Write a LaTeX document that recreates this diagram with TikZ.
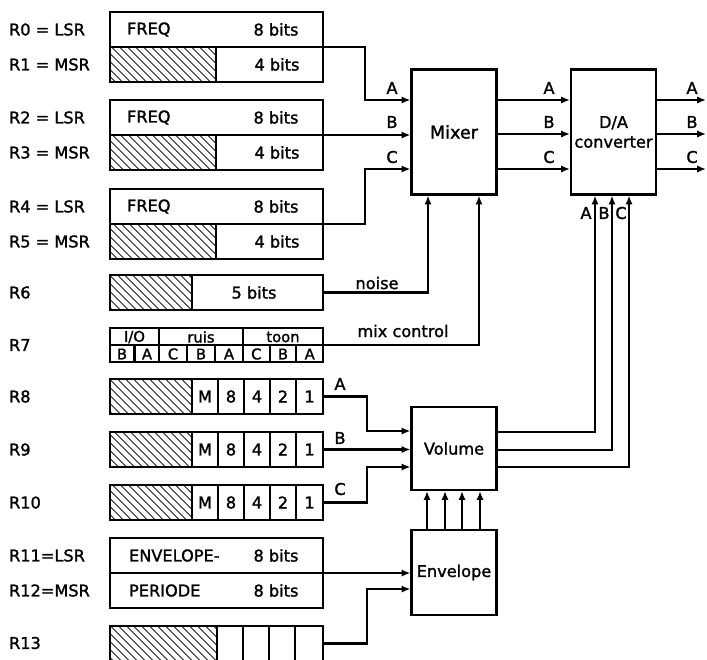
\documentclass[tikz,border=0pt]{standalone}
\usepackage{fontspec}
\setmainfont{DejaVu Sans}[FakeBold=1.5]
\usetikzlibrary{positioning, arrows.meta, calc, patterns.meta}

\begin{document}
\begin{tikzpicture}[x=0.025cm, y=-0.025cm, line width=1.5pt,
    font=\fontsize{11.5}{14}\selectfont,
    reg/.style={draw, anchor=north west, minimum width=5.325cm, minimum height=0.875cm,
                inner sep=0pt, outer sep=0pt},
    blk/.style={draw, minimum width=2.125cm, inner sep=1pt, align=center},
    lbl/.style={anchor=west, inner sep=0pt},
    txt/.style={inner sep=0pt},
    small/.style={inner sep=0pt, font=\fontsize{10.5}{11}\selectfont},
    hatch/.style={pattern={Lines[angle=-45, distance=4pt, line width=0.7pt]}},
    sig/.style={-{Latex[length=2.2mm, width=1.8mm]}}]
  \useasboundingbox (0,0) rectangle (707,659);

  % registers R0 .. R5
  \foreach \n/\m/\y in {0/1/12, 2/3/100, 4/5/189} {
    \fill[hatch] (110,\y+35) rectangle (216,\y+70);
    \draw (216,\y+35) -- (216,\y+70);
    \node[reg] (r\n) at (110,\y) {};
    \node[reg, below=0pt of r\n] (r\m) {};
    \node[lbl] (l\n) at (8,\y+17.5) {R\n\ = LSR};
    \node[lbl] (l\m) at (8,\y+52.5) {R\m\ = MSR};
    \node[txt, anchor=west] (f\n) at (126,\y+17.5) {FREQ};
    \node[txt] (b\n) at (276,\y+17.5) {8 bits};
    \node[txt] (b\m) at (277,\y+52.5) {4 bits};
  }

  % R6
  \fill[hatch] (110,275) rectangle (192,310);
  \draw (192,275) -- (192,310);
  \node[reg] (r6) at (110,275) {};
  \node[lbl] (l6) at (8,292.5) {R6};
  \node[txt] (b6) at (254,292.5) {5 bits};

  % R7
  \node[reg, minimum height=0.85cm] (r7) at (110,328) {};
  \node[lbl] (l7) at (8,345) {R7};
  \draw (r7.west) -- (r7.east);
  \foreach \x in {159, 243} \draw (\x,328) -- (\x,362);
  \foreach \x in {134.5, 187, 215, 269.7, 296.3} \draw (\x,345) -- (\x,362);
  \node[small] (io) at (134.5,337) {I/O};
  \node[small] (ruis) at (201,337) {ruis};
  \node[small] (toon) at (283,337) {toon};
  \foreach \t/\x [count=\i] in {B/122, A/147, C/173, B/201, A/229, C/256.3, B/283, A/309.7}
    \node[small] (c\i) at (\x,354) {\t};

  % R8 .. R10
  \foreach \n/\y in {8/379, 9/432, 10/485} {
    \fill[hatch] (110,\y) rectangle (192,\y+35);
    \node[reg] (r\n) at (110,\y) {};
    \foreach \x in {192, 218, 244, 270, 296} \draw (\x,\y) -- (\x,\y+35);
    \foreach \t/\x in {M/205, 8/231, 4/257, 2/283, 1/309.5}
      \node[txt] (v\n\t) at (\x,\y+17.5) {\t};
    \node[lbl] (l\n) at (8,\y+17.5) {R\n};
  }

  % R11, R12
  \node[reg] (r11) at (110,538) {};
  \node[reg, below=0pt of r11] (r12) {};
  \node[lbl] (l11) at (8,555.5) {R11=LSR};
  \node[lbl] (l12) at (8,590.5) {R12=MSR};
  \node[txt, anchor=west] (e11) at (128,555.5) {ENVELOPE-};
  \node[txt] (b11) at (276,555.5) {8 bits};
  \node[txt, anchor=west] (e12) at (128,590.5) {PERIODE};
  \node[txt] (b12) at (276,590.5) {8 bits};

  % R13
  \fill[hatch] (110,626) rectangle (217,661);
  \node[reg] (r13) at (110,626) {};
  \foreach \x in {217, 243, 269, 295} \draw (\x,626) -- (\x,661);
  \node[lbl] (l13) at (8,643) {R13};

  % blocks
  \node[blk, minimum height=3.125cm, font=\fontsize{12.5}{14}\selectfont] (mixer) at (454,132) {Mixer};
  \node[blk, minimum height=3.125cm] (da) at (613.5,132) {D/A\\converter};
  \node[blk, minimum height=2.075cm] (volume) at (454,448.5) {Volume};
  \node[blk, minimum height=2.125cm] (envelope) at (454,572.5) {Envelope};

  % into the mixer
  \draw[sig] (r0.south east) -- ++(42,0) |- ($(mixer.west)+(0,-32)$);
  \draw[sig] (r2.south east) -- (r2.south east -| mixer.west);
  \draw[sig] (r4.south east) -- ++(42,0) |- ($(mixer.west)+(0,37)$);
  \draw[sig] (r6.east) -| ($(mixer.south)+(-26,0)$);
  \draw[sig] (r7.east) -| ($(mixer.south)+(25,0)$);
  \node[txt] (noise) at (377,283) {noise};
  \node[txt] (mixctl) at (403,331) {mix control};

  % mixer -> D/A -> out
  \foreach \t/\d in {A/-32, B/2, C/37} {
    \coordinate (o\t) at (706,132+\d);
    \draw[sig] ($(mixer.east)+(0,\d)$) -- ($(da.west)+(0,\d)$);
    \draw[sig] ($(da.east)+(0,\d)$) -- (o\t);
  }
  \foreach \t/\y in {A/88, B/122, C/157} {
    \node[txt] (mi\t) at (392,\y) {\t};
    \node[txt] (di\t) at (549,\y) {\t};
    \node[txt] (do\t) at (692,\y) {\t};
  }

  % volume
  \draw[sig] (r8.east) -- ++(44,0) |- ($(volume.west)+(0,-17.5)$);
  \draw[sig] (r9.east) -- (r9.east -| volume.west);
  \draw[sig] (r10.east) -- ++(44,0) |- ($(volume.west)+(0,18.5)$);
  \foreach \t/\y in {A/384, B/438, C/489}
    \node[txt] (vi\t) at (340,\y) {\t};
  \foreach \v/\d in {-16.5/-18.5, 1.5/-1.5, 18.5/15.5}
    \draw[sig] ($(volume.east)+(0,\v)$) -| ($(da.south)+(\d,0)$);
  \foreach \t/\x in {A/586, B/604, C/621}
    \node[txt] (db\t) at (\x,213) {\t};

  % envelope
  \draw[sig] (r11.south east) -- (r11.south east -| envelope.west);
  \draw[sig] (r13.east) -- ++(44,0) |- ($(envelope.west)+(0,16.5)$);
  \foreach \d in {-27, -9, 8, 26}
    \draw[sig] ($(envelope.north)+(\d,0)$) -- ($(volume.south)+(\d,0)$);
\end{tikzpicture}
\end{document}
